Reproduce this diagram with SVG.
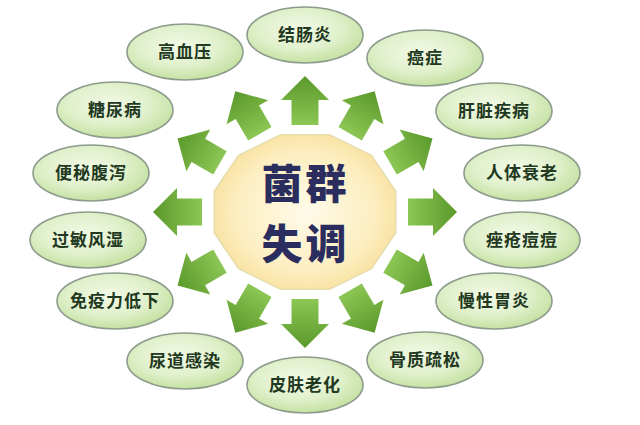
<svg xmlns="http://www.w3.org/2000/svg" width="640" height="425" viewBox="0 0 640 425">
<defs>
<radialGradient id="eg" cx="0.45" cy="0.4" r="0.6">
<stop offset="0" stop-color="#f2f9e6"/>
<stop offset="0.6" stop-color="#e0f0cb"/>
<stop offset="1" stop-color="#c5e1a2"/>
</radialGradient>
<radialGradient id="cg" cx="0.5" cy="0.5" r="0.55">
<stop offset="0" stop-color="#fffbea"/>
<stop offset="0.7" stop-color="#fdeec0"/>
<stop offset="1" stop-color="#f8e09c"/>
</radialGradient>
<linearGradient id="ag" x1="0" y1="0" x2="1" y2="0">
<stop offset="0" stop-color="#8cc654"/>
<stop offset="1" stop-color="#5a992b"/>
</linearGradient>
<path id="arr" d="M0,-13.5 L25,-13.5 L25,-24 L49,0 L25,24 L25,13.5 L0,13.5 Z"/>
</defs>
<style>
.node ellipse{fill:url(#eg);stroke:#8d9b8d;stroke-width:1.6}
.node text{font-family:"Noto Sans CJK SC","Noto Sans",sans-serif;font-size:17px;font-weight:700;fill:#213821;text-anchor:middle;letter-spacing:1px}
.ctext{font-family:"Noto Sans CJK SC","Noto Sans",sans-serif;font-size:41px;font-weight:900;fill:#2b2d5e;text-anchor:middle;letter-spacing:3px}
.connectors use{fill:url(#ag)}
</style>
<rect width="640" height="425" fill="#ffffff"/>
<g id="center">
<polygon points="395.8,191.3 371.5,155.4 329.3,134.7 280.7,134.7 238.5,155.4 214.2,191.3 214.2,232.7 238.5,268.6 280.7,289.3 329.3,289.3 371.5,268.6 395.8,232.7" fill="url(#cg)" stroke="#e6dcae" stroke-width="1.5"/>
<text class="ctext" x="305.5" y="199">菌群</text>
<text class="ctext" x="305.5" y="259">失调</text>
</g>
<g class="connectors" id="connectors">
<use href="#arr" transform="translate(305,212) rotate(0) translate(103,0)"/>
<use href="#arr" transform="translate(305,212) rotate(-30) translate(98.2,0)"/>
<use href="#arr" transform="translate(305,212) rotate(-60) translate(90.3,0)"/>
<use href="#arr" transform="translate(305,212) rotate(-90) translate(87,0)"/>
<use href="#arr" transform="translate(305,212) rotate(-120) translate(90.3,0)"/>
<use href="#arr" transform="translate(305,212) rotate(-150) translate(98.2,0)"/>
<use href="#arr" transform="translate(305,212) rotate(-180) translate(103,0)"/>
<use href="#arr" transform="translate(305,212) rotate(-210) translate(98.2,0)"/>
<use href="#arr" transform="translate(305,212) rotate(-240) translate(90.3,0)"/>
<use href="#arr" transform="translate(305,212) rotate(-270) translate(87,0)"/>
<use href="#arr" transform="translate(305,212) rotate(-300) translate(90.3,0)"/>
<use href="#arr" transform="translate(305,212) rotate(-330) translate(98.2,0)"/>
</g>
<g id="n-gaoxueya" class="node"><ellipse cx="185" cy="52" rx="58" ry="28"/><text x="185" y="58">高血压</text></g>
<g id="n-jiechangyan" class="node"><ellipse cx="305" cy="35" rx="58" ry="28"/><text x="305" y="41">结肠炎</text></g>
<g id="n-aizheng" class="node"><ellipse cx="425" cy="58" rx="58" ry="28"/><text x="425" y="64">癌症</text></g>
<g id="n-ganzang" class="node"><ellipse cx="494" cy="111" rx="58" ry="28"/><text x="494" y="117">肝脏疾病</text></g>
<g id="n-tangniao" class="node"><ellipse cx="115" cy="110" rx="58" ry="28"/><text x="115" y="116">糖尿病</text></g>
<g id="n-bianmi" class="node"><ellipse cx="91" cy="173" rx="58" ry="28"/><text x="91" y="179">便秘腹泻</text></g>
<g id="n-guomin" class="node"><ellipse cx="88" cy="240" rx="58" ry="28"/><text x="88" y="246">过敏风湿</text></g>
<g id="n-shuailao" class="node"><ellipse cx="522" cy="173" rx="58" ry="28"/><text x="522" y="179">人体衰老</text></g>
<g id="n-cuochuang" class="node"><ellipse cx="522" cy="240" rx="58" ry="28"/><text x="522" y="246">痤疮痘痘</text></g>
<g id="n-mianyi" class="node"><ellipse cx="115" cy="301" rx="58" ry="28"/><text x="115" y="307">免疫力低下</text></g>
<g id="n-weiyan" class="node"><ellipse cx="494" cy="301" rx="58" ry="28"/><text x="494" y="307">慢性胃炎</text></g>
<g id="n-niaodao" class="node"><ellipse cx="185" cy="361" rx="58" ry="28"/><text x="185" y="367">尿道感染</text></g>
<g id="n-pifu" class="node"><ellipse cx="305" cy="385" rx="58" ry="28"/><text x="305" y="391">皮肤老化</text></g>
<g id="n-guzhi" class="node"><ellipse cx="425" cy="360" rx="58" ry="28"/><text x="425" y="366">骨质疏松</text></g>
</svg>
